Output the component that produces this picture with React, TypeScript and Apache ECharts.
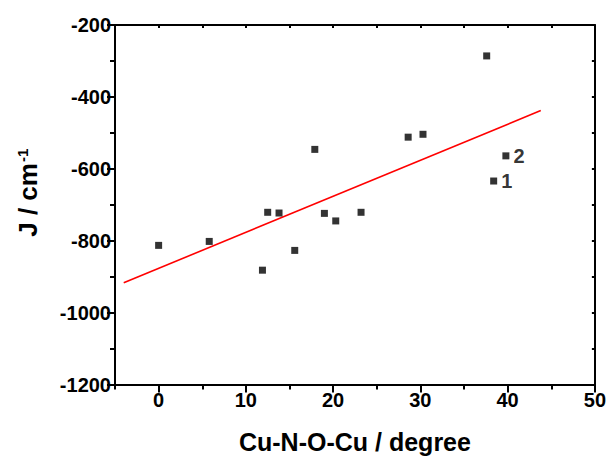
import React, { useEffect, useRef } from "react";
import * as echarts from "echarts";

const angles = [0, 5.8, 11.9, 12.5, 13.8, 15.6, 17.9, 19.0, 20.3, 23.2, 28.6, 30.3, 37.6, 38.4, 39.8];
const jValues = [-813, -802, -882, -721, -723, -827, -546, -724, -745, -721, -512, -504, -286, -634, -564];
const pointLabels = ["", "", "", "", "", "", "", "", "", "", "", "", "", "1", "2"];

const fitX = [-4.0, 43.8];
const fitY = [-917, -438];

const xMajorTicks = [0, 10, 20, 30, 40, 50];
const xMinorTicks = [-5, 5, 15, 25, 35, 45];
const xTopTicks = [-5, 0, 5, 10, 15, 20, 25, 30, 35, 40, 45, 50];

const FONT = "'Liberation Sans', Arial, sans-serif";

export default function App() {
  const ref = useRef<HTMLDivElement>(null);
  useEffect(() => {
    if (!ref.current) return;
    const chart = echarts.init(ref.current, null, { renderer: "svg" });
    const axisLine = { show: true, onZero: false, lineStyle: { color: "#000", width: 2 } };
    const option: any = {
      animation: false,
      backgroundColor: "#fff",
      grid: { left: 115, right: 14, top: 25, bottom: 76.5, containLabel: false },
      xAxis: [
        {
          type: "value",
          position: "bottom",
          min: -5,
          max: 50,
          interval: 5,
          axisLine,
          axisTick: { show: true, inside: false, length: 8, lineStyle: { width: 2, color: "#000" }, customValues: xMajorTicks },
          axisLabel: {
            show: true,
            customValues: xMajorTicks,
            fontSize: 20,
            fontWeight: "bold",
            fontFamily: FONT,
            color: "#000",
            margin: 5,
          },
          splitLine: { show: false },
          name: "Cu-N-O-Cu / degree",
          nameLocation: "middle",
          nameGap: 45,
          nameTextStyle: { fontSize: 25, fontWeight: "bold", fontFamily: FONT, color: "#000" },
        },
        {
          type: "value",
          position: "bottom",
          min: -5,
          max: 50,
          interval: 5,
          axisLine: { show: false, onZero: false },
          axisTick: { show: true, inside: false, length: 5, lineStyle: { width: 2, color: "#000" }, customValues: xMinorTicks },
          axisLabel: { show: false },
          splitLine: { show: false },
        },
        {
          type: "value",
          position: "top",
          min: -5,
          max: 50,
          interval: 5,
          axisLine,
          axisTick: { show: true, inside: true, length: 3, lineStyle: { width: 2, color: "#000" }, customValues: xTopTicks },
          axisLabel: { show: false },
          splitLine: { show: false },
        },
      ],
      yAxis: [
        {
          type: "value",
          position: "left",
          min: -1200,
          max: -200,
          interval: 200,
          axisLine,
          axisTick: { show: true, inside: false, length: 8, lineStyle: { width: 2, color: "#000" } },
          minorTick: { show: true, splitNumber: 2, length: 5, lineStyle: { width: 2, color: "#000" } },
          axisLabel: {
            fontSize: 20,
            fontWeight: "bold",
            fontFamily: FONT,
            color: "#000",
            margin: 4,
            formatter: (v: number) => String(v),
          },
          splitLine: { show: false },
          name: "{a|J / cm}{b|-1}",
          nameLocation: "middle",
          nameGap: 74,
          nameRotate: 90,
          nameTextStyle: {
            fontFamily: FONT,
            color: "#000",
            padding: [0, 0, 0, 24],
            rich: {
              a: { fontSize: 26, fontWeight: "bold", fontFamily: FONT, color: "#000", verticalAlign: "bottom" },
              b: { fontSize: 15, fontWeight: "bold", fontFamily: FONT, color: "#000", verticalAlign: "top", padding: [0, 0, 0, 1] },
            },
          },
        },
        {
          type: "value",
          position: "right",
          min: -1200,
          max: -200,
          interval: 100,
          axisLine,
          axisTick: { show: true, inside: true, length: 3, lineStyle: { width: 2, color: "#000" } },
          axisLabel: { show: false },
          splitLine: { show: false },
        },
      ],
      series: [
        {
          type: "line",
          xAxisIndex: 0,
          yAxisIndex: 0,
          data: fitX.map((x, i) => [x, fitY[i]]),
          showSymbol: false,
          symbol: "none",
          lineStyle: { color: "#ff0000", width: 1.6 },
          z: 2,
        },
        {
          type: "scatter",
          xAxisIndex: 0,
          yAxisIndex: 0,
          symbol: "rect",
          symbolSize: 7,
          itemStyle: { color: "#000" },
          data: angles.map((a, i) => ({
            value: [a, jValues[i]],
            label: {
              show: pointLabels[i] !== "",
              formatter: pointLabels[i],
              position: "right",
              distance: 4,
              fontSize: 20,
              fontWeight: "bold",
              fontFamily: FONT,
              color: "#000",
            },
          })),
          z: 3,
        },
      ],
    };
    chart.setOption(option);
    return () => chart.dispose();
  }, []);
  return (
    <div
      ref={ref}
      style={{ position: "absolute", left: 0, top: 0, width: 609, height: 461, background: "#fff" }}
    />
  );
}
